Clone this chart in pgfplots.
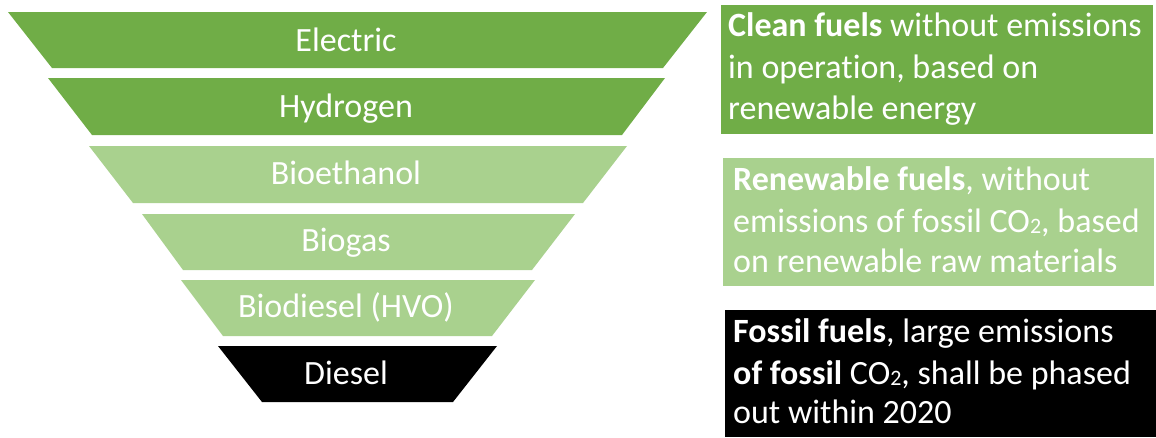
\documentclass[border=0pt]{standalone}
\usepackage{pgfplots}
\pgfplotsset{compat=1.18}
\usepackage{fontspec}
\setmainfont[RawFeature=-liga]{Carlito}
\definecolor{dgreen}{HTML}{70AD47}
\definecolor{lgreen}{HTML}{A9D18E}
\tikzset{lbl/.style={text=white, font=\fontsize{34}{40}\selectfont},
  sub/.style={}}
\newcommand{\cotwo}{CO{\fontsize{22}{22}\selectfont\raisebox{-1pt}{2}}}
\begin{document}
\begin{tikzpicture}
\begin{axis}[hide axis, scale only axis, width=1156pt, height=437pt,
  xmin=0, xmax=1156, ymin=0, ymax=437, y dir=reverse, clip=false]
\addplot[draw=none] coordinates {(0,0) (1156,437)};
% funnel
\addplot[fill=dgreen, draw=none] coordinates {(8,12) (707,12) (663,68) (52,68)} -- cycle;
\addplot[fill=dgreen, draw=none] coordinates {(48,78) (665,78) (622,135) (92,135)} -- cycle;
\addplot[fill=lgreen, draw=none] coordinates {(89,146) (627,146) (583,203) (133,203)} -- cycle;
\addplot[fill=lgreen, draw=none] coordinates {(142,214) (575,214) (532,270) (183,270)} -- cycle;
\addplot[fill=lgreen, draw=none] coordinates {(181,280) (535,280) (492,336) (223,336)} -- cycle;
\addplot[fill=black, draw=none] coordinates {(218,346) (497,346) (453,402) (262,402)} -- cycle;
% boxes
\addplot[fill=dgreen, draw=none] coordinates {(721,5) (1153,5) (1153,134) (721,134)} -- cycle;
\addplot[fill=lgreen, draw=none] coordinates {(723,158) (1154,158) (1154,286) (723,286)} -- cycle;
\addplot[fill=black, draw=none] coordinates {(725,310) (1156,310) (1156,437) (725,437)} -- cycle;
% funnel labels
\node[lbl, anchor=base] at (axis cs:346,51) {Electric};
\node[lbl, anchor=base] at (axis cs:346,117) {Hydrogen};
\node[lbl, anchor=base] at (axis cs:346,184) {Bioethanol};
\node[lbl, anchor=base] at (axis cs:346,251) {Biogas};
\node[lbl, anchor=base] at (axis cs:346,317) {Biodiesel (HVO)};
\node[lbl, anchor=base] at (axis cs:346,384) {Diesel};
% box texts
\node[lbl, anchor=base west, inner sep=0pt] at (axis cs:728,36) {\textbf{Clean fuels} without emissions};
\node[lbl, anchor=base west, inner sep=0pt] at (axis cs:728,78) {in operation, based on};
\node[lbl, anchor=base west, inner sep=0pt] at (axis cs:728,119) {renewable energy};
\node[lbl, anchor=base west, inner sep=0pt] at (axis cs:733,190) {\textbf{Renewable fuels}, without};
\node[lbl, anchor=base west, inner sep=0pt] at (axis cs:733,232) {emissions of fossil \cotwo, based};
\node[lbl, anchor=base west, inner sep=0pt] at (axis cs:733,272) {on renewable raw materials};
\node[lbl, anchor=base west, inner sep=0pt] at (axis cs:733,342) {\textbf{Fossil fuels}, large emissions};
\node[lbl, anchor=base west, inner sep=0pt] at (axis cs:733,384) {\textbf{of fossil} \cotwo, shall be phased};
\node[lbl, anchor=base west, inner sep=0pt] at (axis cs:733,423) {out within 2020};
\end{axis}
\end{tikzpicture}
\end{document}
